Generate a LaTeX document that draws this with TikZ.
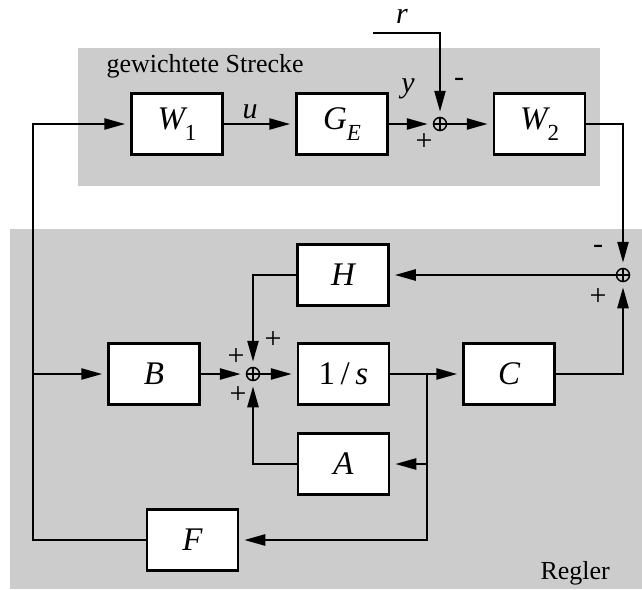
\documentclass[tikz,border=0pt]{standalone}
\usepackage{fontspec}
\setmainfont{Liberation Serif}
\usetikzlibrary{arrows.meta,calc}
\definecolor{panel}{HTML}{CCCCCC}
\newcommand\idx[1]{\raisebox{-.32em}{\fontsize{23}{23}\selectfont #1}}

\begin{document}
\begin{tikzpicture}[x=1pt,y=-1pt,>={Triangle[length=21pt,width=11pt]},
  blk/.style={draw,fill=white,line width=2.5pt,minimum width=91pt,minimum height=61pt,inner sep=0pt,font=\fontsize{33}{36}\selectfont\itshape},
  sum/.style={circle,draw,line width=1.5pt,minimum size=13pt,inner sep=0pt,
    path picture={\draw[line width=1.5pt] (path picture bounding box.north) -- (path picture bounding box.south)
      (path picture bounding box.west) -- (path picture bounding box.east);}},
  sig/.style={font=\fontsize{30}{30}\selectfont},
  lab/.style={font=\fontsize{30}{30}\selectfont\itshape},
  txt/.style={anchor=base west,font=\fontsize{26}{30}\selectfont},
  wire/.style={line width=2.5pt},
  arr/.style={wire,->,shorten >=5pt}]
  \useasboundingbox (0,0) rectangle (642,589);
  \fill[panel] (78,48) rectangle (600,186);
  \fill[panel] (10,229) rectangle (642,589);
  \node[txt] (strecke) at (103,72) {gewichtete Strecke};
  \node[txt] (regler) at (537,579) {Regler};

  \node[blk] (W1) at (177,124) {W\idx{\upshape 1}};
  \node[blk] (GE) at (342,124) {G\idx{E}};
  \node[sum] (s1) at (440,124) {};
  \node[blk] (W2) at (539.5,124) {W\idx{\upshape 2}};
  \node[sum] (s2) at (623,275) {};
  \node[blk] (H) at (343,275) {H};
  \node[blk] (B) at (154,374) {B};
  \node[sum] (s3) at (253,374) {};
  \node[blk] (I) at (343.5,374) {\upshape 1\,/\,\itshape s};
  \node[blk] (C) at (509,374) {C};
  \node[blk] (A) at (343.5,464) {A};
  \node[blk] (F) at (192.5,540) {F};

  \coordinate (rin) at (373,33);
  \coordinate (lt) at (33,124);
  \coordinate (lb) at (33,374);
  \coordinate (br) at (427,374);

  \draw[arr] (F.west) -| (lt) -- (W1);
  \draw[arr] (lb) -- (B);
  \draw[arr] (W1) -- (GE);
  \draw[arr] (GE) -- (s1);
  \draw[arr] (rin) -| (s1);
  \draw[arr] (s1) -- (W2);
  \draw[arr] (W2.east) -| (s2);
  \draw[arr] (s2) -- (H);
  \draw[arr] (H.west) -| (s3);
  \draw[arr] (B) -- (s3);
  \draw[arr] (A.west) -| (s3);
  \draw[arr] (s3) -- (I);
  \draw[arr] (I) -- (C);
  \draw[arr] (C.east) -| (s2);
  \draw[arr] (br) |- (A);
  \draw[arr] (br) |- (F);

  \node[lab] (u) at (250,112) {u};
  \node[lab] (y) at (408,89) {y};
  \node[lab] (r) at (402,16) {r};
  \node[sig] (m1) at (459,82) {-};
  \node[sig] (p1) at (424,142) {+};
  \node[sig] (m2) at (598,249) {-};
  \node[sig] (p2) at (598,297) {+};
  \node[sig] (p3) at (273,340) {+};
  \node[sig] (p4) at (236,357) {+};
  \node[sig] (p5) at (238,395) {+};
\end{tikzpicture}
\end{document}
